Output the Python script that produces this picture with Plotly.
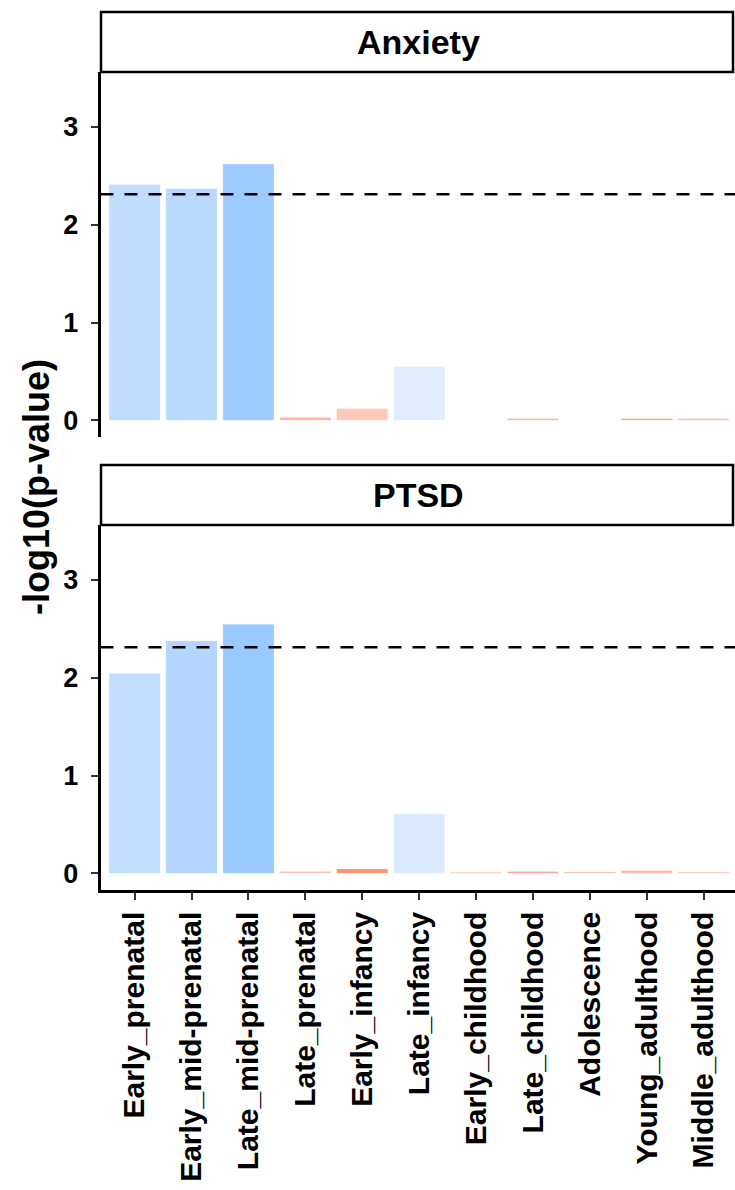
import plotly.graph_objects as go

W, H = 735, 1190

periods = ["Early_prenatal", "Early_mid-prenatal", "Late_mid-prenatal", "Late_prenatal",
           "Early_infancy", "Late_infancy", "Early_childhood", "Late_childhood",
           "Adolescence", "Young_adulthood", "Middle_adulthood"]

anxiety_vals = [2.41, 2.37, 2.62, 0.03, 0.12, 0.55, 0.0, 0.02, 0.0, 0.02, 0.02]
ptsd_vals = [2.045, 2.375, 2.545, 0.02, 0.045, 0.61, 0.012, 0.02, 0.012, 0.028, 0.012]

anxiety_colors = ["#C0DCFF", "#B9D9FF", "#9DCBFF", "#FDB5A0", "#FFC7B6", "#E1EDFF",
                  "#FCB8A5", "#FDB3A0", "#FCB8A5", "#FBA996", "#FDBBA8"]
ptsd_colors = ["#C4DEFF", "#B2D6FF", "#99CAFF", "#FDC0AD", "#FA9272", "#DCEAFF",
               "#FCB5A0", "#FBA58E", "#F99A80", "#FDB3A0", "#FBAA95"]

panels = ["Anxiety", "PTSD"]
threshold = 2.31
y_range = [-0.17, 3.56]

def px_x(p):
    return p / W

def px_y(p):
    return 1 - p / H

FONT = "Liberation Sans"

fig = go.Figure()
fig.add_trace(go.Bar(x=periods, y=anxiety_vals, marker=dict(color=anxiety_colors,
                     line=dict(color="rgba(255,255,255,0.6)", width=0.5)),
                     xaxis="x", yaxis="y", showlegend=False))
fig.add_trace(go.Bar(x=periods, y=ptsd_vals, marker=dict(color=ptsd_colors,
                     line=dict(color="rgba(255,255,255,0.6)", width=0.5)),
                     xaxis="x2", yaxis="y2", showlegend=False))

x_dom = [px_x(100.5), 1.0]
x_rng = [-0.6, 10.55]
ytick = dict(tickvals=[0, 1, 2, 3], ticktext=["0", "1", "2", "3"],
             tickfont=dict(family=FONT, size=27, color="black", weight="bold"),
             ticks="outside", ticklen=7, tickwidth=2, tickcolor="#333333",
             ticklabelstandoff=7,
             showline=True, linecolor="black", linewidth=2.5, showgrid=False,
             zeroline=False, range=y_range, fixedrange=True)

fig.update_layout(
    width=W, height=H,
    margin=dict(l=0, r=0, t=0, b=0),
    paper_bgcolor="white", plot_bgcolor="white",
    bargap=0.1,
    xaxis=dict(domain=x_dom, range=x_rng, anchor="y", showticklabels=False,
               showline=False, ticks="", showgrid=False, categoryorder="array",
               categoryarray=periods),
    xaxis2=dict(domain=x_dom, range=x_rng, anchor="y2", showline=True, linecolor="black",
                linewidth=2.5, ticks="outside", ticklen=7, tickwidth=2, tickcolor="#333333",
                tickangle=-90, showgrid=False, categoryorder="array", categoryarray=periods,
                tickfont=dict(family=FONT, size=30, color="black", weight="bold"),
                automargin=False),
    yaxis=dict(domain=[px_y(437), px_y(72)], anchor="x", automargin=False, **ytick),
    yaxis2=dict(domain=[px_y(890), px_y(525)], anchor="x2", automargin=False, **ytick),
)

for yref in ["y", "y2"]:
    fig.add_shape(type="line", xref="x domain" if yref == "y" else "x2 domain",
                  yref=yref, x0=0, x1=1, y0=threshold, y1=threshold,
                  line=dict(color="black", width=2.5, dash="13px,11px"))

strips = [(12, 72), (465, 525)]
for name, (top, bot) in zip(panels, strips):
    fig.add_shape(type="rect", xref="paper", yref="paper",
                  x0=px_x(101), x1=px_x(733), y0=px_y(bot), y1=px_y(top),
                  line=dict(color="black", width=2.5), fillcolor="white")
    fig.add_annotation(text=name, xref="paper", yref="paper",
                       x=px_x(418), y=px_y((top + bot) / 2), showarrow=False,
                       xanchor="center", yanchor="middle",
                       font=dict(family=FONT, size=34, color="black", weight="bold"))

fig.add_annotation(text="-log10(p-value)", xref="paper", yref="paper",
                   x=px_x(36), y=px_y(487), textangle=-90, showarrow=False,
                   xanchor="center", yanchor="middle",
                   font=dict(family=FONT, size=36, color="black", weight="bold"))

fig.write_html("out.html", config={"displayModeBar": False},
               post_script="document.body.style.margin='0';document.body.style.overflow='hidden';")
